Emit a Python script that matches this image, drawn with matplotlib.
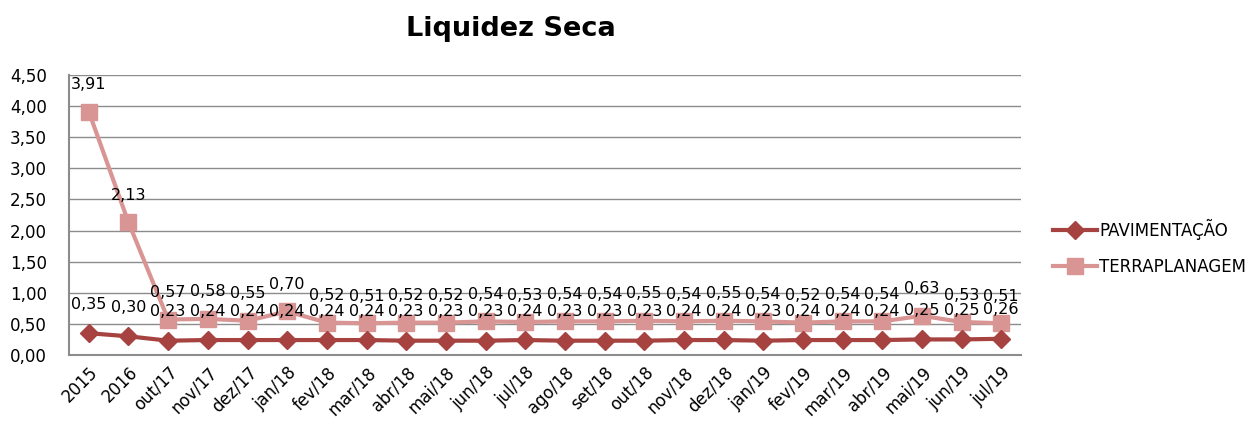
import matplotlib.pyplot as plt

plt.rcParams['font.family'] = ['DejaVu Sans']

periods = ['2015', '2016', 'out/17', 'nov/17', 'dez/17', 'jan/18', 'fev/18', 'mar/18',
           'abr/18', 'mai/18', 'jun/18', 'jul/18', 'ago/18', 'set/18', 'out/18', 'nov/18',
           'dez/18', 'jan/19', 'fev/19', 'mar/19', 'abr/19', 'mai/19', 'jun/19', 'jul/19']
pavimentacao = [0.35, 0.30, 0.23, 0.24, 0.24, 0.24, 0.24, 0.24, 0.23, 0.23, 0.23, 0.24,
                0.23, 0.23, 0.23, 0.24, 0.24, 0.23, 0.24, 0.24, 0.24, 0.25, 0.25, 0.26]
terraplanagem = [3.91, 2.13, 0.57, 0.58, 0.55, 0.70, 0.52, 0.51, 0.52, 0.52, 0.54, 0.53,
                 0.54, 0.54, 0.55, 0.54, 0.55, 0.54, 0.52, 0.54, 0.54, 0.63, 0.53, 0.51]
yticks = [0, 0.5, 1.0, 1.5, 2.0, 2.5, 3.0, 3.5, 4.0, 4.5]

c_pav = '#A64240'
c_ter = '#D99594'

fig = plt.figure(figsize=(12.59, 4.23), dpi=100)
ax = fig.add_axes([0.0548, 0.1608, 0.7562, 0.662])

x = range(len(periods))
ax.plot(x, pavimentacao, color=c_pav, lw=3, marker='D', ms=9, label='PAVIMENTAÇÃO', zorder=4)
ax.plot(x, terraplanagem, color=c_ter, lw=3, marker='s', ms=11.5, label='TERRAPLANAGEM', zorder=3)

def fmt(v):
    return f'{v:.2f}'.replace('.', ',')

# rótulos de dados
for i, v in enumerate(pavimentacao):
    ax.annotate(fmt(v), (i, v), xytext=(0, 15.5), textcoords='offset points',
                ha='center', va='bottom', fontsize=11.5, color='black', zorder=5)
for i, v in enumerate(terraplanagem):
    ax.annotate(fmt(v), (i, v), xytext=(0, 14), textcoords='offset points',
                ha='center', va='bottom', fontsize=11.5, color='black', zorder=5)

ax.set_xlim(-0.5, len(periods) - 0.5)
ax.set_ylim(0, 4.5)
ax.set_yticks(yticks)
ax.set_yticklabels([fmt(t) for t in yticks], fontsize=12)
ax.set_xticks(list(x))
ax.set_xticklabels(periods, rotation=45, ha='right', rotation_mode='anchor', fontsize=12)
ax.tick_params(axis='y', length=0, pad=16)
ax.tick_params(axis='x', length=0, pad=6)
ax.grid(axis='y', color='#8c8c8c', lw=1)
ax.set_axisbelow(True)
for s in ['top', 'right']:
    ax.spines[s].set_visible(False)
ax.spines['left'].set_color('#8c8c8c')
ax.spines['bottom'].set_color('#8c8c8c')
ax.spines['left'].set_linewidth(1.5)
ax.spines['bottom'].set_linewidth(1.5)

fig.text(0.406, 0.932, 'Liquidez Seca', ha='center', va='center', fontsize=19.5, fontweight='bold')

ax.legend(loc='center left', bbox_to_anchor=(1.034, 0.384), frameon=False, fontsize=12,
          handlelength=2.6, labelspacing=1.1, handletextpad=0.15, borderpad=0, borderaxespad=0)

fig.savefig('out.png', dpi=100)
